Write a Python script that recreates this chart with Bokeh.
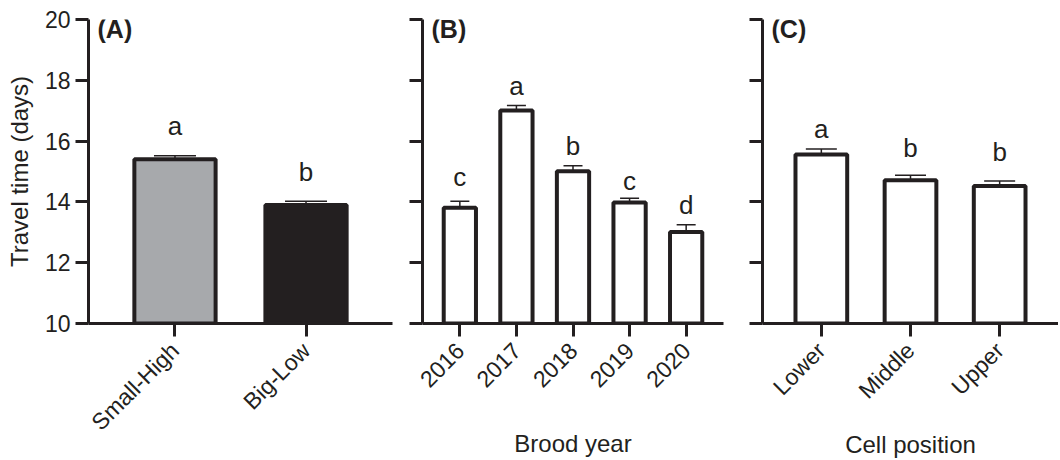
import math
from bokeh.plotting import figure
from bokeh.layouts import row
from bokeh.models import (FactorRange, Range1d, FixedTicker, Whisker, TeeHead,
                          ColumnDataSource, Label)
from bokeh.embed import file_html
from bokeh.resources import INLINE
from bokeh.core.properties import value

# ---------------- data ----------------
groups_A = ["Small-High", "Big-Low"]
mean_A = [15.40, 13.90]
se_A = [0.12, 0.12]
sig_A = ["a", "b"]

years_B = ["2016", "2017", "2018", "2019", "2020"]
mean_B = [13.81, 17.01, 15.01, 13.98, 13.01]
se_B = [0.21, 0.16, 0.18, 0.14, 0.24]
sig_B = ["c", "a", "b", "c", "d"]

pos_C = ["Lower", "Middle", "Upper"]
mean_C = [15.56, 14.71, 14.52]
se_C = [0.18, 0.17, 0.17]
sig_C = ["a", "b", "b"]

y_ticks = [10, 12, 14, 16, 18, 20]
y_label = "Travel time (days)"

# ---------------- style ----------------
INK = "#231F20"
GREY = "#A7A9AC"
FONT = "Liberation Sans"
TICK_FS = "23px"
TITLE_FS = "24px"
LETTER_FS = "26px"
FRAME_H = 304


def panel(cats, means, ses, sigs, fills, tag, xlabel, frame_w, bl, br,
          bar_w, cap_px, gaps, show_y, xtitle_standoff):
    src = ColumnDataSource(dict(
        x=cats, top=means,
        upper=[m + s for m, s in zip(means, ses)],
        lab=sigs, fill=fills, gap=[-g for g in gaps]))
    p = figure(x_range=FactorRange(factors=cats, range_padding=0.16,
                                   range_padding_units="absolute"),
               y_range=Range1d(y_ticks[0], y_ticks[-1]),
               frame_width=frame_w, frame_height=FRAME_H,
               min_border_left=bl, min_border_right=br,
               min_border_top=19, min_border_bottom=136,
               output_backend="svg", toolbar_location=None, tools="")
    p.outline_line_color = None
    p.xgrid.grid_line_color = None
    p.ygrid.grid_line_color = None
    p.background_fill_color = "white"
    p.border_fill_color = "white"

    p.vbar(x="x", top="top", bottom=y_ticks[0], width=bar_w,
           fill_color="fill", line_color=INK, line_width=4, source=src)
    w = Whisker(base="x", lower="top", upper="upper", source=src,
                dimension="height", line_color=INK, line_width=1.5,
                upper_head=TeeHead(size=cap_px, line_color=INK, line_width=1.5),
                lower_head=None)
    p.add_layout(w)
    p.text(x="x", y="upper", text="lab", y_offset="gap", source=src,
           text_align="center", text_baseline="alphabetic",
           text_font=value(FONT), text_font_size=LETTER_FS, text_color=INK)

    for ax in (p.xaxis[0], p.yaxis[0]):
        ax.axis_line_color = INK
        ax.axis_line_width = 3
        ax.major_tick_line_color = INK
        ax.major_tick_line_width = 3
        ax.major_tick_out = 13
        ax.major_tick_in = 0
        ax.minor_tick_line_color = None
        ax.major_label_text_font = FONT
        ax.major_label_text_font_size = TICK_FS
        ax.major_label_text_color = INK
        ax.axis_label_text_font = FONT
        ax.axis_label_text_font_size = TITLE_FS
        ax.axis_label_text_font_style = "normal"
        ax.axis_label_text_color = INK

    p.yaxis.ticker = FixedTicker(ticks=y_ticks)
    p.yaxis.major_label_standoff = 5
    if show_y:
        p.yaxis.axis_label = y_label
        p.yaxis.axis_label_standoff = 9
    else:
        p.yaxis.major_label_overrides = {t: "" for t in y_ticks}

    p.xaxis.major_label_orientation = math.pi / 4
    p.xaxis.major_label_standoff = 10
    if xlabel:
        p.xaxis.axis_label = xlabel
        p.xaxis.axis_label_standoff = xtitle_standoff

    p.add_layout(Label(x=9, y=y_ticks[-1], x_units="screen", y_units="data",
                       text=tag, text_font=FONT, text_font_size="25px",
                       text_font_style="bold", text_color=INK,
                       text_baseline="top", y_offset=5))
    return p


pA = panel(groups_A, mean_A, se_A, sig_A, [GREY, INK], "(A)", None,
           304, 88, 4, 0.62, 42, [30, 29], True, 0)
pB = panel(years_B, mean_B, se_B, sig_B, ["white"] * 5, "(B)", "Brood year",
           301, 26, 6, 0.57, 19, [24, 20, 20, 17, 20], False, 32)
pC = panel(pos_C, mean_C, se_C, sig_C, ["white"] * 3, "(C)", "Cell position",
           296, 33, 0, 0.58, 31, [20, 27, 29], False, 15)

layout = row(pA, pB, pC)
open("out.html", "w").write(file_html(layout, INLINE))
